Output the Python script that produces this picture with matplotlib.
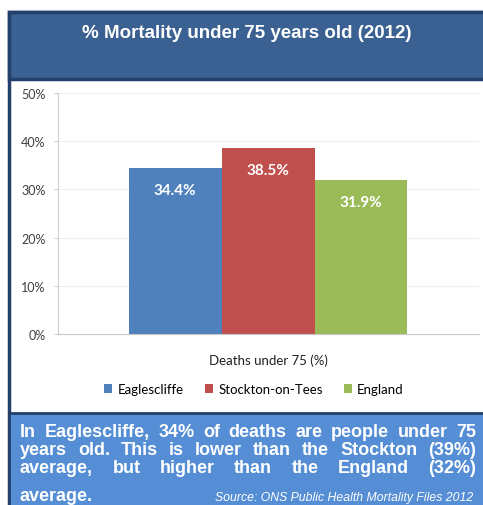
import matplotlib
matplotlib.use("Agg")
import matplotlib.pyplot as plt
from matplotlib.patches import Rectangle
from matplotlib.ticker import PercentFormatter

areas = ["Eaglescliffe", "Stockton-on-Tees", "England"]
values = [34.4, 38.5, 31.9]
colors = ["#4F81BD", "#C0504D", "#9BBB59"]
category = "Deaths under 75 (%)"
title = "% Mortality under 75 years old (2012)"
summary_lines = [
    "In Eaglescliffe, 34% of deaths are people under 75",
    "years old. This is lower than the Stockton (39%)",
    "average, but higher than the England (32%)",
    "average.",
]
source = "Source: ONS Public Health Mortality Files 2012"

W, H = 483, 506
fig = plt.figure(figsize=(W / 100, H / 100), dpi=100)


def px_rect(x0, y0, x1, y1, **kw):
    # rectangle given in pixel coords measured from the top-left corner
    r = Rectangle((x0 / W, 1 - y1 / H), (x1 - x0) / W, (y1 - y0) / H,
                  transform=fig.transFigure, zorder=0, **kw)
    fig.patches.append(r)


# panel frame, title bar and summary box
px_rect(9, 13, 490, 520, facecolor="white", edgecolor="#22406B", linewidth=2.5)
px_rect(9, 13, 490, 80, facecolor="#3A6191", edgecolor="#22406B", linewidth=2.5)
px_rect(9, 414, 490, 520, facecolor="#558ED5", edgecolor="#22406B", linewidth=2)

fig.text(247 / W, 1 - 33 / H, title, ha="center", va="center", color="white",
         fontsize=13.5, fontweight="bold", family="Liberation Sans")

ax = fig.add_axes([58 / W, 1 - 335 / H, 421 / W, 241 / H], zorder=2)
ax.patch.set_alpha(0)
x = [-1, 0, 1]
bars = ax.bar(x, values, width=1.0, color=colors, label=areas, zorder=2)
for b, v in zip(bars, values):
    ax.text(b.get_x() + b.get_width() / 2, v - 4.5, f"{v:.1f}%", ha="center",
            va="center", color="white", fontsize=11, fontweight="bold",
            family="Lato")

ax.set_ylim(0, 50)
ax.set_xlim(-2.26, 2.27)
ax.set_yticks(range(0, 51, 10))
ax.yaxis.set_major_formatter(PercentFormatter(decimals=0))
ax.set_xticks([])
ax.grid(axis="y", color="#EEEEEE", linewidth=0.8, zorder=0)
for s in ["top", "right"]:
    ax.spines[s].set_visible(False)
ax.spines["left"].set_color("#D0D0D0")
ax.spines["bottom"].set_color("#C8C8C8")
ax.tick_params(axis="y", length=3, color="#D0D0D0", labelsize=9,
               labelcolor="#404040", pad=6)
for lab in ax.get_yticklabels():
    lab.set_family("Lato")
ax.text(0, -4, category, ha="center", va="top", fontsize=9.5,
        color="#202020", family="Lato", transform=ax.transData)

leg = fig.legend(handles=bars, labels=areas, loc="center",
                 bbox_to_anchor=(254 / W, 1 - 390 / H), ncol=3, frameon=False,
                 prop={"family": "Lato", "size": 9.5}, handlelength=0.6,
                 handleheight=0.6, handletextpad=0.4, columnspacing=1.6)
leg.set_zorder(3)

# justified summary text
fig.canvas.draw()
renderer = fig.canvas.get_renderer()
left, right = 20, 476
baselines = [437, 455, 473, 501]
font = dict(color="white", fontsize=13, fontweight="bold",
            family="Liberation Sans", va="baseline", zorder=3)
for i, line in enumerate(summary_lines):
    y = 1 - baselines[i] / H
    words = line.split(" ")
    if i == len(summary_lines) - 1:
        fig.text(left / W, y, line, ha="left", **font)
        continue
    widths = []
    items = []
    for w in words:
        t = fig.text(0, 0, w, ha="left", **font)
        widths.append(t.get_window_extent(renderer).width)
        items.append(t)
    gap = (right - left - sum(widths)) / (len(words) - 1)
    xpos = left
    for t, wd in zip(items, widths):
        t.set_position((xpos / W, y))
        xpos += wd + gap

fig.text(473 / W, 1 - 501 / H, source, ha="right", va="baseline",
         color="white", fontsize=8.8, style="italic", family="Liberation Sans",
         zorder=3)

fig.savefig("out.png", dpi=100)
